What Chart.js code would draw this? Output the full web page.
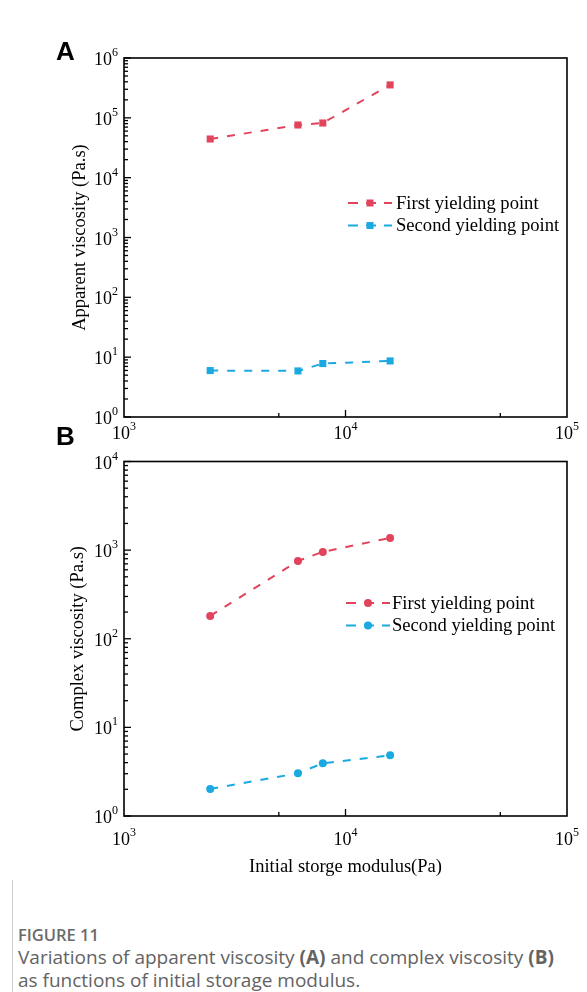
<!DOCTYPE html>
<html><head><meta charset="utf-8">
<script src="https://cdn.jsdelivr.net/npm/chart.js@4.4.0/dist/chart.umd.min.js"></script>
<style>
html,body{margin:0;padding:0;background:#fff;}
#wrap{position:relative;width:587px;height:992px;background:#fff;overflow:hidden;}
canvas{position:absolute;left:0;}
#cA{top:0;}
#cB{top:440px;}
.panel{position:absolute;font-family:'Liberation Sans',Arial,sans-serif;font-weight:bold;font-size:26px;color:#000;line-height:26px;}
#capt{position:absolute;left:18px;top:923px;font-family:'Open Sans',sans-serif;color:#636363;font-size:19px;line-height:23px;white-space:nowrap;}
#capt .fig{font-size:16.5px;font-weight:600;color:#6a6a6a;}
#vline{position:absolute;left:12px;top:880px;width:1px;height:112px;background:#cfcfcf;}
</style></head>
<body>
<div id="wrap">
  <canvas id="cA" width="587" height="445"></canvas>
  <canvas id="cB" width="587" height="450"></canvas>
  <div class="panel" style="left:56px;top:38px;">A</div>
  <div class="panel" style="left:56px;top:423px;">B</div>
  <div id="vline"></div>
  <div id="capt"><div class="fig">FIGURE 11</div>
  <div>Variations of apparent viscosity <b>(A)</b> and complex viscosity <b>(B)</b><br>as functions of initial storage modulus.</div></div>
</div>
<script>
// ---- data ----
const xA = [2450, 6100, 7900, 15900];
const firstA = [44300, 75900, 82000, 355000];
const secondA = [5.97, 5.89, 7.82, 8.65];
const xB = [2450, 6100, 7900, 15900];
const firstB = [181, 755, 955, 1373];
const secondB = [2.02, 3.03, 3.93, 4.84];
const seriesNames = ['First yielding point', 'Second yielding point'];
const xTickExps = [3, 4, 5];
const yTickExpsA = [0, 1, 2, 3, 4, 5, 6];
const yTickExpsB = [0, 1, 2, 3, 4];
const xMinorTicks = [5000, 50000];
const yTitleA = 'Apparent viscosity (Pa.s)';
const yTitleB = 'Complex viscosity (Pa.s)';
const xTitle = 'Initial storge modulus(Pa)';

const RED = '#E2445C', BLUE = '#1AA9E1';
const SERIF = '"Liberation Serif","Times New Roman",serif';

function pts(xs, ys){ return xs.map((x,i)=>({x:x, y:ys[i]})); }

function drawPow(ctx, x, y, exp, align){
  ctx.font = '18px ' + SERIF;
  const wb = ctx.measureText('10').width;
  ctx.font = '12px ' + SERIF;
  const we = ctx.measureText(String(exp)).width;
  const w = wb + we;
  let left = align === 'right' ? x - w : x - w/2;
  ctx.fillStyle = '#000';
  ctx.textAlign = 'left';
  ctx.textBaseline = 'alphabetic';
  ctx.font = '18px ' + SERIF;
  ctx.fillText('10', left, y);
  ctx.font = '12px ' + SERIF;
  ctx.fillText(String(exp), left + wb, y - 9);
}

const decor = {
  id: 'decor',
  afterDatasetsDraw(chart, args, o){
    const ctx = chart.ctx, a = chart.chartArea, xs = chart.scales.x, ys = chart.scales.y;
    ctx.save();
    function line(x1,y1,x2,y2){ ctx.beginPath(); ctx.moveTo(x1,y1); ctx.lineTo(x2,y2); ctx.stroke(); }
    ctx.strokeStyle = '#000';
    ctx.lineWidth = 1.3;
    // y ticks (inward)
    o.yExps.forEach((e,i)=>{
      const v = Math.pow(10,e);
      const py = ys.getPixelForValue(v);
      line(a.left, py, a.left+7, py);
      if (i < o.yExps.length-1){
        for (let m=2;m<=9;m++){ const p = ys.getPixelForValue(m*v); line(a.left, p, a.left+4, p); }
      }
      drawPow(ctx, a.left-6, py+7, e, 'right');
    });
    // x ticks (inward)
    xTickExps.forEach(e=>{
      const px = xs.getPixelForValue(Math.pow(10,e));
      if (px > a.left+1 && px < a.right-1) line(px, a.bottom, px, a.bottom-7);
      drawPow(ctx, px, a.bottom + o.xLabelOff, e, 'center');
    });
    xMinorTicks.forEach(v=>{
      const px = xs.getPixelForValue(v);
      line(px, a.bottom, px, a.bottom-4);
    });
    // frame
    ctx.lineWidth = 1.6;
    ctx.strokeRect(a.left, a.top, a.right-a.left, a.bottom-a.top);
    // legend
    chart.data.datasets.forEach((ds,i)=>{
      const y = o.legY + i*22.5;
      const x0 = o.legX;
      ctx.strokeStyle = ds.borderColor;
      ctx.lineWidth = 2;
      ctx.setLineDash([10,8]);
      line(x0, y, x0+44, y);
      ctx.setLineDash([]);
      ctx.fillStyle = ds.backgroundColor;
      if (ds.pointStyle === 'rect'){ ctx.fillRect(x0+22-3.5, y-3.5, 7, 7); }
      else { ctx.beginPath(); ctx.arc(x0+22, y, 4, 0, Math.PI*2); ctx.fill(); }
      ctx.fillStyle = '#000';
      ctx.font = '18.6px ' + SERIF;
      ctx.textAlign = 'left';
      ctx.textBaseline = 'middle';
      ctx.fillText(ds.label, o.legTextX, y+1);
    });
    ctx.restore();
  }
};

function makeChart(id, cfg){
  const dsBase = (label, xs, ys, color, style, r)=>({
    label, data: pts(xs, ys), showLine: true,
    borderColor: color, backgroundColor: color,
    borderWidth: 2, borderDash: [8,9],
    pointStyle: style, pointRadius: r, pointHoverRadius: r,
    pointBorderWidth: 0, tension: 0
  });
  return new Chart(document.getElementById(id), {
    type: 'scatter',
    data: { datasets: [
      dsBase(seriesNames[0], cfg.x, cfg.s1, RED, cfg.style, cfg.r),
      dsBase(seriesNames[1], cfg.x, cfg.s2, BLUE, cfg.style, cfg.r)
    ]},
    plugins: [decor],
    options: {
      responsive: false, animation: false, devicePixelRatio: 1,
      layout: { padding: { left: 0, top: cfg.top, right: 20, bottom: 0 } },
      plugins: { legend: {display:false}, tooltip: {enabled:false},
        decor: { yExps: cfg.yExps, xLabelOff: cfg.xLabelOff, legX: cfg.legX, legTextX: cfg.legTextX, legY: cfg.legY } },
      scales: {
        x: { type: 'logarithmic', min: 1000, max: 100000, position: 'bottom',
             grid: {display:false, drawTicks:false}, border: {display:false},
             ticks: {display:false},
             title: { display: cfg.xTitle, text: xTitle, color:'#000',
                      font: {family: SERIF, size: 18.5}, padding: {top:0, bottom: cfg.xTitlePad} },
             afterFit: s => { s.height = cfg.xH; } },
        y: { type: 'logarithmic', min: 1, max: Math.pow(10, cfg.yExps[cfg.yExps.length-1]), position: 'left',
             grid: {display:false, drawTicks:false}, border: {display:false},
             ticks: {display:false},
             title: { display: true, text: cfg.yTitle, color:'#000',
                      font: {family: SERIF, size: 18.5}, padding: {top: cfg.yTitlePad, bottom:0} },
             afterFit: s => { s.width = 124; } }
      }
    }
  });
}

makeChart('cA', { x: xA, s1: firstA, s2: secondA, style: 'rect', r: 5, yExps: yTickExpsA,
  top: 58, xH: 445-417, xTitle: false, xTitlePad: 0, yTitle: yTitleA, yTitlePad: 69,
  xLabelOff: 22, legX: 348, legTextX: 396, legY: 203 });
makeChart('cB', { x: xB, s1: firstB, s2: secondB, style: 'circle', r: 4, yExps: yTickExpsB,
  top: 21.5, xH: 450-376, xTitle: true, xTitlePad: 12, yTitle: yTitleB, yTitlePad: 67,
  xLabelOff: 29, legX: 346, legTextX: 392, legY: 163 });
</script>
</body></html>
